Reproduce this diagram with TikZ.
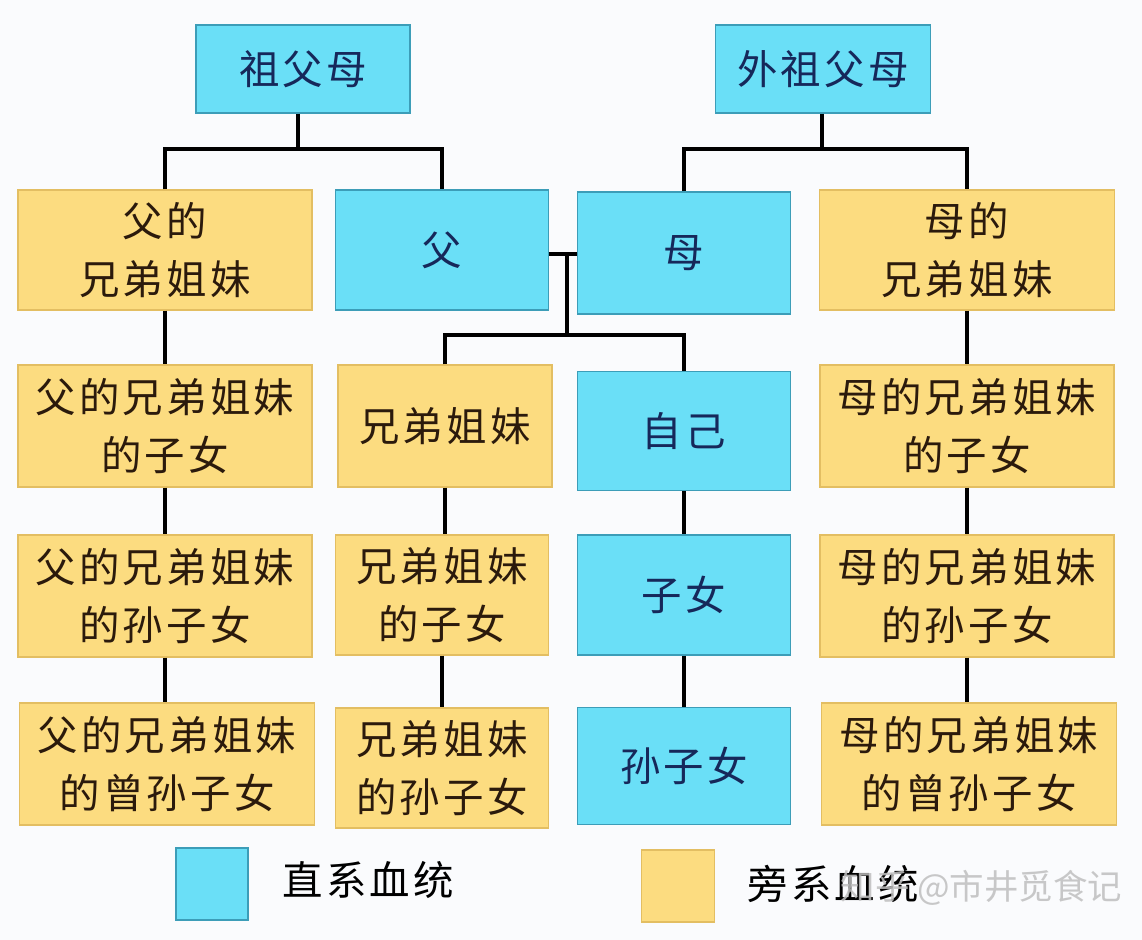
\documentclass[tikz,border=0pt]{standalone}
\usepackage{fontspec}
\newfontfamily\cjk[LetterSpace=8]{Noto Sans CJK SC}
\newfontfamily\cjkplain{Noto Sans CJK SC}
\usetikzlibrary{calc}
\definecolor{bgcol}{HTML}{FAFBFD}
\definecolor{zhixi}{HTML}{6ADFF7}
\definecolor{zhixiline}{HTML}{3C9DB8}
\definecolor{zhixitext}{HTML}{16285A}
\definecolor{pangxi}{HTML}{FCDC80}
\definecolor{pangxiline}{HTML}{E3BE62}
\definecolor{pangxitext}{HTML}{2B1A0C}

\begin{document}
\begin{tikzpicture}[x=0.01cm,y=-0.01cm,
    font={\cjk\fontsize{11.5pt}{16.5pt}\selectfont},
    zhi/.style={draw=zhixiline, fill=zhixi, text=zhixitext, align=center,
        inner sep=0pt, minimum width=2.14cm, minimum height=1.2cm},
    pang/.style={draw=pangxiline, fill=pangxi, text=pangxitext, align=center,
        inner sep=0pt, minimum width=2.94cm, minimum height=1.2cm},
    link/.style={line width=1.3pt, black}]
    \useasboundingbox (0,0) rectangle (1142,940);
    \fill[bgcol] (0,0) rectangle (1142,940);

    % grandparents
    \node[zhi, minimum height=0.88cm] (zfm) at (303,69) {祖父母};
    \node[zhi, minimum height=0.88cm, minimum width=2.15cm] (wzfm) at (823,69) {外祖父母};

    % first row
    \node[pang] (fxd) at (165,250) {父的\\兄弟姐妹};
    \node[zhi, minimum width=2.13cm] (fu) at (442,250) {父};
    \node[zhi, minimum width=2.13cm, minimum height=1.22cm] (mu) at (684,253) {母};
    \node[pang, minimum width=2.95cm] (mxd) at (967,250) {母的\\兄弟姐妹};

    % second row
    \node[pang, minimum height=1.22cm] (fxdzn) at (165,426) {父的兄弟姐妹\\的子女};
    \node[pang, minimum width=2.14cm, minimum height=1.22cm] (xd) at (445,426) {兄弟姐妹};
    \node[zhi, minimum width=2.13cm, minimum height=1.19cm] (zj) at (684,431) {自己};
    \node[pang, minimum height=1.22cm] (mxdzn) at (967,426) {母的兄弟姐妹\\的子女};

    % third row
    \node[pang, minimum height=1.22cm] (fxdsz) at (165,596) {父的兄弟姐妹\\的孙子女};
    \node[pang, minimum width=2.13cm] (xdzn) at (442,595) {兄弟姐妹\\的子女};
    \node[zhi, minimum width=2.13cm] (zn) at (684,595) {子女};
    \node[pang, minimum height=1.22cm] (mxdsz) at (967,596) {母的兄弟姐妹\\的孙子女};

    % fourth row
    \node[pang, minimum width=2.95cm, minimum height=1.22cm] (fxdcs) at (167,764) {父的兄弟姐妹\\的曾孙子女};
    \node[pang, minimum width=2.13cm] (xdsz) at (442,768) {兄弟姐妹\\的孙子女};
    \node[zhi, minimum width=2.13cm, minimum height=1.17cm] (szn) at (684,766) {孙子女};
    \node[pang, minimum width=2.95cm, minimum height=1.22cm] (mxdcs) at (969,764) {母的兄弟姐妹\\的曾孙子女};

    % junctions
    \coordinate (zfmj) at (298,149);
    \coordinate (wzfmj) at (822,149);
    \coordinate (hun) at (567,254);
    \coordinate (zinv) at (567,335);

    \draw[link] (zfm.south -| zfmj) -- (zfmj);
    \draw[link] (fxd.north) |- (fu.north |- zfmj) -- (fu.north);
    \draw[link] (wzfm.south -| wzfmj) -- (wzfmj);
    \draw[link] (mu.north) |- (mxd.north |- wzfmj) -- (mxd.north);
    \draw[link] (fu.east |- hun) -- (mu.west |- hun);
    \draw[link] (hun) -- (zinv);
    \draw[link] (xd.north) |- (zj.north |- zinv) -- (zj.north);

    \foreach \a/\b in {fxd/fxdzn, fxdzn/fxdsz, fxdsz/fxdcs,
        xd/xdzn, xdzn/xdsz, zj/zn, zn/szn,
        mxd/mxdzn, mxdzn/mxdsz, mxdsz/mxdcs}
        \draw[link] (\a.south) -- (\a.south |- \b.north);

    % legend
    \node[zhi, minimum width=0.72cm, minimum height=0.72cm] (lzhi) at (212,884) {};
    \node[anchor=west, black] (lzhitext) at (270,880) {直系血统};
    \node[pang, minimum width=0.73cm, minimum height=0.72cm] (lpang) at (678,886) {};
    \node[anchor=west, black] (lpangtext) at (735,884) {旁系血统};
    \node[anchor=west, inner sep=0pt, text=gray!50, opacity=0.85,
        font={\cjkplain\fontsize{9.8pt}{12pt}\selectfont}] (mark) at (840,888) {知乎 @市井觅食记};
\end{tikzpicture}
\end{document}
